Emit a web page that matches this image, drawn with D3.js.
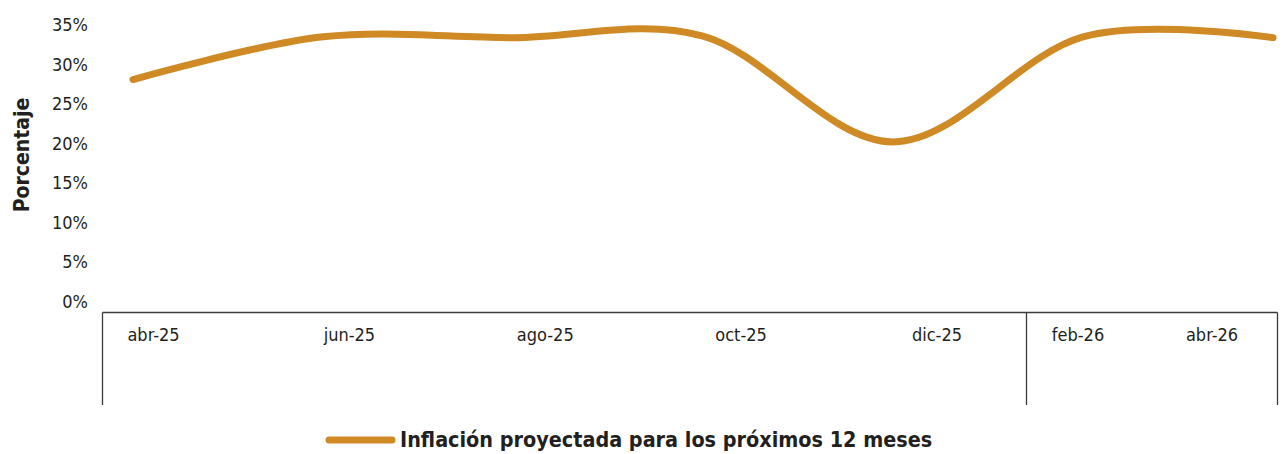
<!DOCTYPE html>
<html><head><meta charset="utf-8">
<script src="https://cdn.jsdelivr.net/npm/d3@7"></script>
<style>
body{margin:0;background:#fff;}
svg{display:block;}
text{font-family:"Liberation Sans Narrow","DejaVu Sans Condensed","Liberation Sans",sans-serif;fill:#231f20;}
</style></head>
<body>
<svg id="chart" width="1283" height="454"></svg>
<script>
const months = ["abr-25","jun-25","ago-25","oct-25","dic-25","feb-26","abr-26"];
const inflation = [28.1, 33.5, 33.4, 33.6, 20.2, 33.5, 33.4];
const tickLabels = ["abr-25","jun-25","ago-25","oct-25","dic-25","feb-26","abr-26"];
const yTicks = [0,5,10,15,20,25,30,35];
const seriesName = "Inflación proyectada para los próximos 12 meses";
const yTitle = "Porcentaje";

const svg = d3.select("#chart");
const color = "#cf8a25";

const y = d3.scaleLinear().domain([0,35]).range([301.5,25]);
const x = d3.scalePoint().domain(months).range([133,1273]);
// label positions of the multi-level category axis (years 2025 | 2026)
const xl = d3.scaleLinear().domain([0,4,5,6]).range([153.5,937,1078,1212]);

// y axis labels
svg.append("g").selectAll("text").data(yTicks).join("text")
  .attr("x",88).attr("y",d=>y(d)).attr("dy","0.35em")
  .attr("text-anchor","end").attr("font-size",18)
  .text(d=>d+"%");

// y title
svg.append("text")
  .attr("transform","translate(29,155) rotate(-90)")
  .attr("text-anchor","middle").attr("font-size",21).attr("font-weight","bold")
  .text(yTitle);

// x axis lines
const axisY = 312.5, axisBottom = 405;
svg.append("line").attr("x1",102.5).attr("x2",1277.5).attr("y1",axisY).attr("y2",axisY)
  .attr("stroke","#3a3a3a").attr("stroke-width",1.3);
[102.5,1026.5,1277.5].forEach(v=>{
  svg.append("line").attr("x1",v).attr("x2",v).attr("y1",axisY).attr("y2",axisBottom)
    .attr("stroke","#3a3a3a").attr("stroke-width",1.3);
});

// x labels
svg.append("g").selectAll("text").data(tickLabels).join("text")
  .attr("x",(d,i)=>xl(i)).attr("y",335).attr("dy","0.35em")
  .attr("text-anchor","middle").attr("font-size",18)
  .text(d=>d);

// line
const line = d3.line().x((d,i)=>x(months[i])).y(d=>y(d)).curve(d3.curveCardinal.tension(0));
svg.append("path").datum(inflation).attr("d",line)
  .attr("fill","none").attr("stroke",color).attr("stroke-width",7)
  .attr("stroke-linecap","round").attr("stroke-linejoin","round");

// legend
svg.append("line").attr("x1",329).attr("x2",392).attr("y1",440).attr("y2",440)
  .attr("stroke",color).attr("stroke-width",7).attr("stroke-linecap","round");
svg.append("text").attr("x",400).attr("y",440).attr("dy","0.35em")
  .attr("font-size",21.4).attr("font-weight","bold").text(seriesName);
</script>
</body></html>
